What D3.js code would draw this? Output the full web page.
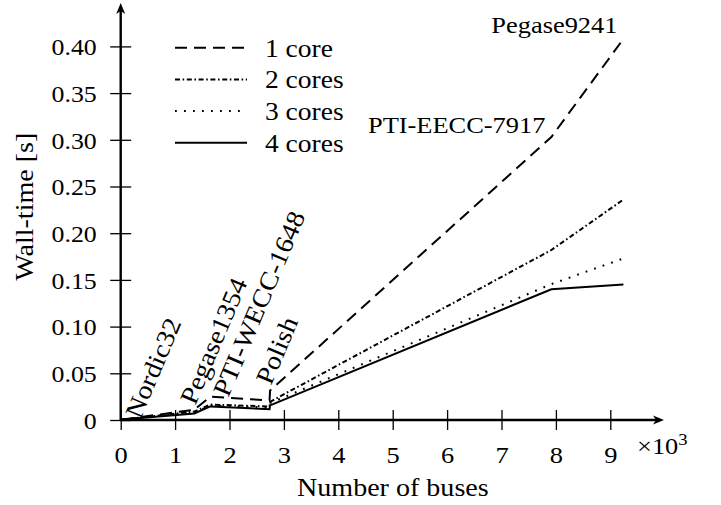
<!DOCTYPE html>
<html>
<head>
<meta charset="utf-8">
<script src="https://cdn.jsdelivr.net/npm/d3@7/dist/d3.min.js"></script>
<style>
  html, body { margin: 0; padding: 0; background: #fff; }
  svg { display: block; }
  text { font-family: "Liberation Serif", "Times New Roman", serif; fill: #000; }
</style>
</head>
<body>
<div id="chart"></div>
<script>
// ---------- data ----------
const buses = [32, 1354, 1648, 2736, 2746, 7917, 9241];
const core1 = [0.0005, 0.011, 0.0250, 0.0210, 0.0315, 0.303, 0.408];
const core2 = [0.0005, 0.009, 0.0165, 0.0145, 0.0195, 0.182, 0.236];
const core3 = [0.0005, 0.008, 0.0155, 0.0135, 0.0180, 0.1455, 0.173];
const core4 = [0.0005, 0.007, 0.0145, 0.0115, 0.0156, 0.140, 0.145];
const seriesNames = ["1 core", "2 cores", "3 cores", "4 cores"];
const caseNames = ["Nordic32", "Pegase1354", "PTI-WECC-1648", "Polish", "PTI-EECC-7917", "Pegase9241"];
const caseBuses = [32, 1354, 1648, 2746, 7917, 9241];
const xTickValues = [0, 1, 2, 3, 4, 5, 6, 7, 8, 9];
const yTickValues = [0, 0.05, 0.10, 0.15, 0.20, 0.25, 0.30, 0.35, 0.40];
const xLabel = "Number of buses";
const yLabel = "Wall-time [s]";

// ---------- setup ----------
const W = 721, H = 505;
const SX = 1.1; // horizontal glyph stretch
const FONT = '"Liberation Serif", "Times New Roman", serif';
const svg = d3.select("#chart").append("svg").attr("width", W).attr("height", H);

const x = d3.scaleLinear().domain([0, 9000]).range([120.7, 610.3]);
const y = d3.scaleLinear().domain([0, 0.4]).range([420, 46.4]);

function label(g, px, py, str, opt) {
  opt = opt || {};
  return g.append("text")
    .attr("transform", `translate(${px},${py}) rotate(${opt.rot || 0}) scale(${SX},1)`)
    .attr("text-anchor", opt.anchor || "start")
    .style("font-size", (opt.size || 24) + "px")
    .text(str);
}

// ---------- data lines ----------
const styles = [
  { dash: "12,7" },
  { dash: "5,2.6,1.6,2.6" },
  { dash: "1.8,7.2" },
  { dash: null }
];
const allSeries = [core1, core2, core3, core4];
const line = d3.line().x((d, i) => x(buses[i])).y(d => y(d));
const gl = svg.append("g");
allSeries.forEach((s, k) => {
  gl.append("path").datum(s)
    .attr("d", line)
    .attr("fill", "none")
    .attr("stroke", "#000")
    .attr("stroke-width", 2)
    .attr("stroke-linejoin", "miter")
    .attr("stroke-dasharray", styles[k].dash);
});

// ---------- axes ----------
const xAxis = svg.append("g").attr("transform", `translate(0,${y(0)})`)
  .call(d3.axisBottom(x).tickValues(xTickValues.map(v => v * 1000)).tickSize(0).tickFormat(v => d3.format("d")(v / 1000)));
xAxis.select(".domain").remove();
xAxis.selectAll(".tick line").attr("y1", -10).attr("y2", 10).attr("stroke", "#000").attr("stroke-width", 1.3);
xAxis.selectAll(".tick text")
  .attr("y", 42.7).attr("dy", null)
  .attr("transform", `scale(${SX},1)`)
  .attr("fill", "#000")
  .style("font-size", "24px")
  .style("font-family", FONT);

const yAxis = svg.append("g").attr("transform", `translate(${x(0)},0)`)
  .call(d3.axisLeft(y).tickValues(yTickValues).tickSize(0).tickFormat(v => v === 0 ? "0" : d3.format(".2f")(v)));
yAxis.select(".domain").remove();
yAxis.selectAll(".tick line").attr("x1", -10.5).attr("x2", 10.5).attr("stroke", "#000").attr("stroke-width", 1.3);
yAxis.selectAll(".tick text")
  .attr("x", -24 / SX).attr("dy", "0.35em")
  .attr("transform", `scale(${SX},1)`)
  .attr("fill", "#000")
  .style("font-size", "23.5px")
  .style("font-family", FONT);

// axis lines with arrows
const ax = svg.append("g");
const x0 = x(0), y0 = y(0);
const xEnd = 664, yTop = 3;
ax.append("line").attr("x1", x0).attr("x2", xEnd - 4).attr("y1", y0).attr("y2", y0)
  .attr("stroke", "#000").attr("stroke-width", 2.4);
ax.append("line").attr("x1", x0).attr("x2", x0).attr("y1", y0).attr("y2", yTop + 4)
  .attr("stroke", "#000").attr("stroke-width", 2.4);
ax.append("path")
  .attr("d", `M${xEnd},${y0} L${xEnd - 11},${y0 - 4.5} L${xEnd - 8},${y0} L${xEnd - 11},${y0 + 4.5} Z`)
  .attr("fill", "#000");
ax.append("path")
  .attr("d", `M${x0},${yTop} L${x0 - 4.5},${yTop + 11} L${x0},${yTop + 8} L${x0 + 4.5},${yTop + 11} Z`)
  .attr("fill", "#000");

// x10^3
const mult = svg.append("text")
  .attr("transform", `translate(637,454) scale(${SX},1)`)
  .style("font-size", "24px");
mult.append("tspan").text("\u00d710");
mult.append("tspan").attr("dy", -9).style("font-size", "17px").text("3");

// axis labels
label(svg, (x0 + xEnd) / 2 + 0.5, 496, xLabel, { anchor: "middle", size: 25.5 });
label(svg, 33, 206.7, yLabel, { anchor: "middle", size: 25.5, rot: -90 });

// ---------- legend ----------
const lg = svg.append("g");
seriesNames.forEach((n, k) => {
  const ly = 47.7 + k * 31.7;
  lg.append("line").attr("x1", 175).attr("x2", 247).attr("y1", ly).attr("y2", ly)
    .attr("stroke", "#000").attr("stroke-width", 2)
    .attr("stroke-dasharray", styles[k].dash);
  label(lg, 265, ly + 9, n, { size: 25 });
});

// ---------- case annotations ----------
const ann = svg.append("g");
const rotOffsets = [[18, 0], [1, -14], [18, -22], [1, -34]];
caseNames.slice(0, 4).forEach((n, i) => {
  label(ann, x(caseBuses[i]) + rotOffsets[i][0], y(0) + rotOffsets[i][1], n, { rot: -67, size: 25.5 });
});
label(ann, x(caseBuses[4]) - 6, y(core1[5]) - 4, caseNames[4], { anchor: "end", size: 24 });
label(ann, x(caseBuses[5]) - 6, y(core1[6]) - 6, caseNames[5], { anchor: "end", size: 24 });
</script>
</body>
</html>
